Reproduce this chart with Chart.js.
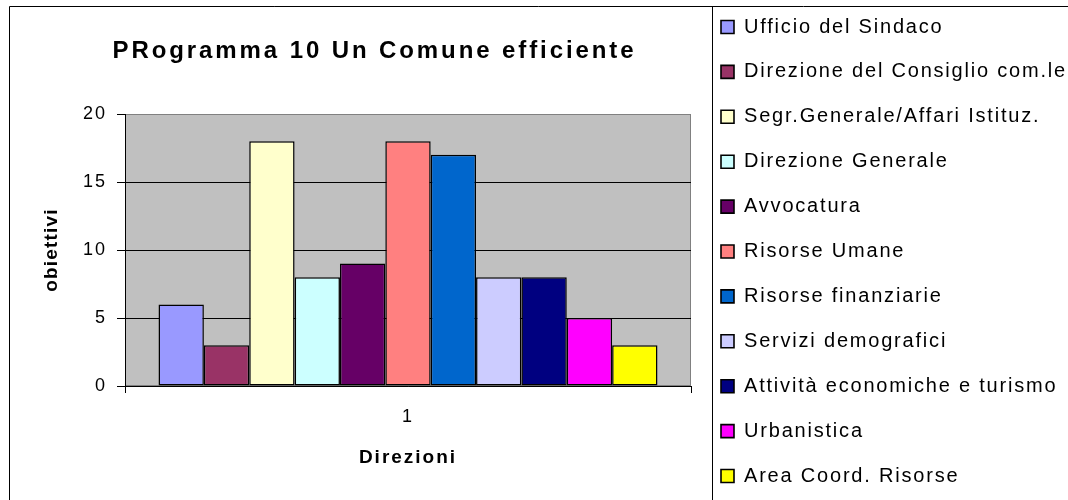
<!DOCTYPE html>
<html>
<head>
<meta charset="utf-8">
<script src="https://cdn.jsdelivr.net/npm/chart.js@4.4.1/dist/chart.umd.min.js"></script>
<style>
  html, body { margin: 0; padding: 0; background: #ffffff; }
  #wrap { width: 1068px; height: 500px; }
</style>
</head>
<body>
<div id="wrap"><canvas id="c" width="1068" height="500"></canvas></div>
<script>
// Objectives per department, single category group
const categories = ['1'];
const seriesNames = [
  'Ufficio del Sindaco',
  'Direzione del Consiglio com.le',
  'Segr.Generale/Affari Istituz.',
  'Direzione Generale',
  'Avvocatura',
  'Risorse Umane',
  'Risorse finanziarie',
  'Servizi demografici',
  'Attività economiche e turismo',
  'Urbanistica',
  'Area Coord. Risorse'
];
const seriesValues = [6, 3, 18, 8, 9, 18, 17, 8, 8, 5, 3];
const seriesColors = [
  '#9999FF', '#993366', '#FFFFCC', '#CCFFFF', '#660066', '#FF8080',
  '#0066CC', '#CCCCFF', '#000080', '#FF00FF', '#FFFF00'
];
const yTickValues = [0, 5, 10, 15, 20];
const chartTitle = 'PRogramma 10 Un Comune efficiente';
const xAxisTitle = 'Direzioni';
const yAxisTitle = 'obiettivi';

const FONT = "'Liberation Sans', Arial, Helvetica, sans-serif";
const LEGEND_FONT = 20;
const LEGEND_PAD = 24.9;

// Wrap a draw method so its text is rendered with extra letter spacing
function withSpacing(obj, method, spacing) {
  if (!obj || obj['__sp_' + method]) return;
  const orig = obj[method];
  obj[method] = function (...args) {
    const ctx = this.ctx;
    const prev = ctx.letterSpacing;
    ctx.letterSpacing = spacing;
    try { return orig.apply(this, args); } finally { ctx.letterSpacing = prev || '0px'; }
  };
  obj['__sp_' + method] = true;
}

const framePlugin = {
  id: 'frame',
  afterLayout(chart) {
    // title centred over the left panel
    const t = chart.titleBlock;
    t.left = 0; t.right = 749; t.width = 749;
    // legend column inside the right panel
    const lg = chart.legend;
    lg.left = 721 - LEGEND_PAD;
    lg.top = 27 - LEGEND_FONT / 2 - LEGEND_PAD;
    lg.bottom = 560;
    withSpacing(t, 'draw', '2.9px');
    withSpacing(lg, 'draw', '1.8px');
    withSpacing(chart.scales.y, 'drawLabels', '2px');
    withSpacing(chart.scales.y, 'drawTitle', '1.2px');
    withSpacing(chart.scales.x, 'drawLabels', '2px');
    withSpacing(chart.scales.x, 'drawTitle', '2px');
  },
  beforeDraw(chart) {
    const { ctx, chartArea: a } = chart;
    ctx.save();
    ctx.fillStyle = '#ffffff';
    ctx.fillRect(0, 0, chart.width, chart.height);
    ctx.fillStyle = '#C0C0C0';
    ctx.fillRect(a.left, a.top, a.right - a.left, a.bottom - a.top);
    ctx.strokeStyle = '#808080';
    ctx.lineWidth = 1;
    ctx.strokeRect(a.left + 0.5, a.top + 0.5, a.right - a.left - 1, a.bottom - a.top - 1);
    ctx.restore();
  },
  afterDraw(chart) {
    const ctx = chart.ctx;
    ctx.save();
    ctx.strokeStyle = '#000000';
    ctx.lineWidth = 1;
    ctx.beginPath();
    ctx.moveTo(9.5, chart.height); ctx.lineTo(9.5, 6.5); ctx.lineTo(chart.width, 6.5);
    ctx.moveTo(712.5, 6.5); ctx.lineTo(712.5, chart.height);
    ctx.stroke();
    ctx.restore();
  }
};

const datasets = seriesNames.map((name, i) => ({
  label: name,
  data: [seriesValues[i]],
  backgroundColor: seriesColors[i],
  borderColor: '#000000',
  borderWidth: 1.5,
  borderSkipped: false,
  categoryPercentage: 0.8816,
  barPercentage: 1.0
}));

new Chart(document.getElementById('c'), {
  type: 'bar',
  data: { labels: categories, datasets },
  plugins: [framePlugin],
  options: {
    responsive: false,
    animation: false,
    events: [],
    layout: { padding: 0 },
    plugins: {
      tooltip: { enabled: false },
      title: {
        display: true,
        text: chartTitle,
        color: '#000000',
        font: { family: FONT, size: 24, weight: 'bold', lineHeight: 1.2 },
        padding: { top: 37, bottom: 48.2 }
      },
      legend: {
        display: true,
        position: 'right',
        align: 'start',
        maxWidth: 356,
        labels: {
          boxWidth: 13,
          boxHeight: 13,
          padding: LEGEND_PAD,
          color: '#000000',
          font: { family: FONT, size: LEGEND_FONT },
          generateLabels(chart) {
            const items = Chart.defaults.plugins.legend.labels.generateLabels(chart);
            items.forEach(it => { it.lineWidth = 1.6; it.strokeStyle = '#000000'; });
            return items;
          }
        }
      }
    },
    scales: {
      x: {
        position: 'bottom',
        offset: true,
        grid: {
          display: true,
          drawOnChartArea: false,
          drawTicks: true,
          tickLength: 7,
          tickColor: '#000000',
          color: '#000000',
          offset: true
        },
        border: { display: true, color: '#000000', width: 1 },
        ticks: { color: '#000000', padding: 13.4, font: { family: FONT, size: 18 } },
        title: {
          display: true,
          text: xAxisTitle,
          color: '#000000',
          font: { family: FONT, size: 19, weight: 'bold', lineHeight: 1.2 },
          padding: { top: 0, bottom: 30.6 }
        },
        afterFit(s) { s.height = 114; }
      },
      y: {
        position: 'left',
        min: yTickValues[0],
        max: yTickValues[yTickValues.length - 1],
        afterBuildTicks(s) { s.ticks = yTickValues.map(v => ({ value: v })); },
        grid: {
          display: true,
          drawOnChartArea: true,
          drawTicks: true,
          tickLength: 8,
          tickColor: '#000000',
          color: ctx => (ctx.tick && ctx.tick.value === yTickValues[yTickValues.length - 1]) ? '#808080' : '#000000',
          lineWidth: 1
        },
        border: { display: true, color: '#000000', width: 1 },
        ticks: { color: '#000000', padding: 10, font: { family: FONT, size: 18 } },
        title: {
          display: true,
          text: yAxisTitle,
          color: '#000000',
          font: { family: FONT, size: 19, weight: 'bold', lineHeight: 1.2 },
          padding: { top: 40.6, bottom: 0 }
        },
        afterFit(s) { s.width = 125; }
      },
      gap: {
        type: 'linear',
        position: 'right',
        display: true,
        grid: { display: false, drawTicks: false },
        border: { display: false },
        ticks: { display: false },
        afterFit(s) { s.width = 21; }
      }
    }
  }
});
</script>
</body>
</html>
